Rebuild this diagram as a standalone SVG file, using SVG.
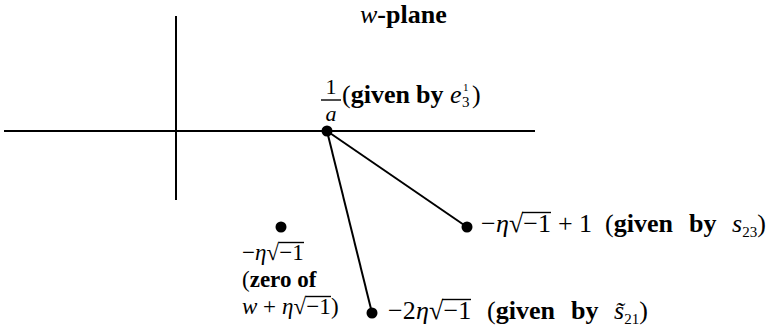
<svg xmlns="http://www.w3.org/2000/svg" width="772" height="329" viewBox="0 0 772 329">
<style>
text{font-family:"Liberation Serif","DejaVu Serif",serif;font-size:26px;fill:#000}
.i{font-style:italic}
.b{font-weight:bold}
.sub{font-size:15px}
.sup{font-size:11px}
.lf{font-size:23px}
.fr{font-size:22px}
.ax{stroke:#000;stroke-width:2;fill:none}
.ed{stroke:#000;stroke-width:2;fill:none}
.ov{stroke:#000;stroke-width:1.4}
.dot{fill:#000}
</style>
<g id="axes">
<line class="ax" x1="176" y1="16" x2="176" y2="200"/>
<line class="ax" x1="4" y1="131" x2="535" y2="131"/>
</g>
<g id="title"><text x="360" y="23" font-size="24"><tspan class="i">w</tspan><tspan class="b">-plane</tspan></text></g>
<g id="connectors">
<line class="ed" x1="327" y1="131" x2="467" y2="227"/>
<line class="ed" x1="327" y1="131" x2="372" y2="313"/>
</g>
<g id="node-a">
<circle class="dot" cx="327" cy="131" r="5.5"/>
<text class="fr" x="331" y="94" text-anchor="middle">1</text>
<line class="ov" x1="321" y1="100" x2="341" y2="100"/>
<text class="fr i" x="331" y="121" text-anchor="middle">a</text>
<text y="103"><tspan x="342">(</tspan><tspan class="b">given</tspan><tspan class="b" x="416">by</tspan><tspan class="i" x="450">e</tspan><tspan class="sub" x="462" dy="4">3</tspan><tspan class="sup" x="463" dy="-16">1</tspan><tspan x="472" dy="12">)</tspan></text>
</g>
<g id="node-s23">
<circle class="dot" cx="467" cy="227" r="5.5"/>
<text y="232"><tspan x="481">−</tspan><tspan class="i" x="496">η</tspan><tspan x="509">√</tspan><tspan x="523.3">−1</tspan><tspan x="558">+</tspan><tspan x="579">1</tspan><tspan x="605">(</tspan><tspan class="b">given</tspan><tspan class="b" x="689">by</tspan><tspan class="i" x="732">s</tspan><tspan class="sub" dy="5">23</tspan><tspan dy="-5">)</tspan></text>
<line class="ov" x1="522" y1="212.5" x2="551" y2="212.5"/>
</g>
<g id="node-s21">
<circle class="dot" cx="372" cy="313" r="5.5"/>
<text y="319"><tspan x="388">−2</tspan><tspan class="i" x="416">η</tspan><tspan x="429">√</tspan><tspan x="443.5">−1</tspan><tspan x="487">(</tspan><tspan class="b">given</tspan><tspan class="b" x="571">by</tspan><tspan class="i" x="614">s̃</tspan><tspan class="sub" dy="5">21</tspan><tspan dy="-5">)</tspan></text>
<line class="ov" x1="442" y1="299.5" x2="471" y2="299.5"/>
</g>
<g id="node-zero">
<circle class="dot" cx="281" cy="227" r="5.5"/>
<text class="lf" y="260"><tspan x="242">−</tspan><tspan class="i" x="255">η</tspan><tspan x="266.5">√</tspan><tspan x="279.2">−1</tspan></text>
<text class="lf" x="242" y="287">(<tspan class="b">zero of</tspan></text>
<text class="lf" y="314"><tspan class="i" x="242">w</tspan><tspan x="263">+</tspan><tspan class="i" x="282">η</tspan><tspan x="293.5">√</tspan><tspan x="306.2">−1</tspan><tspan x="331">)</tspan></text>
<line class="ov" x1="278.5" y1="242.5" x2="304" y2="242.5"/>
<line class="ov" x1="305.5" y1="296.5" x2="331" y2="296.5"/>
</g>
</svg>
